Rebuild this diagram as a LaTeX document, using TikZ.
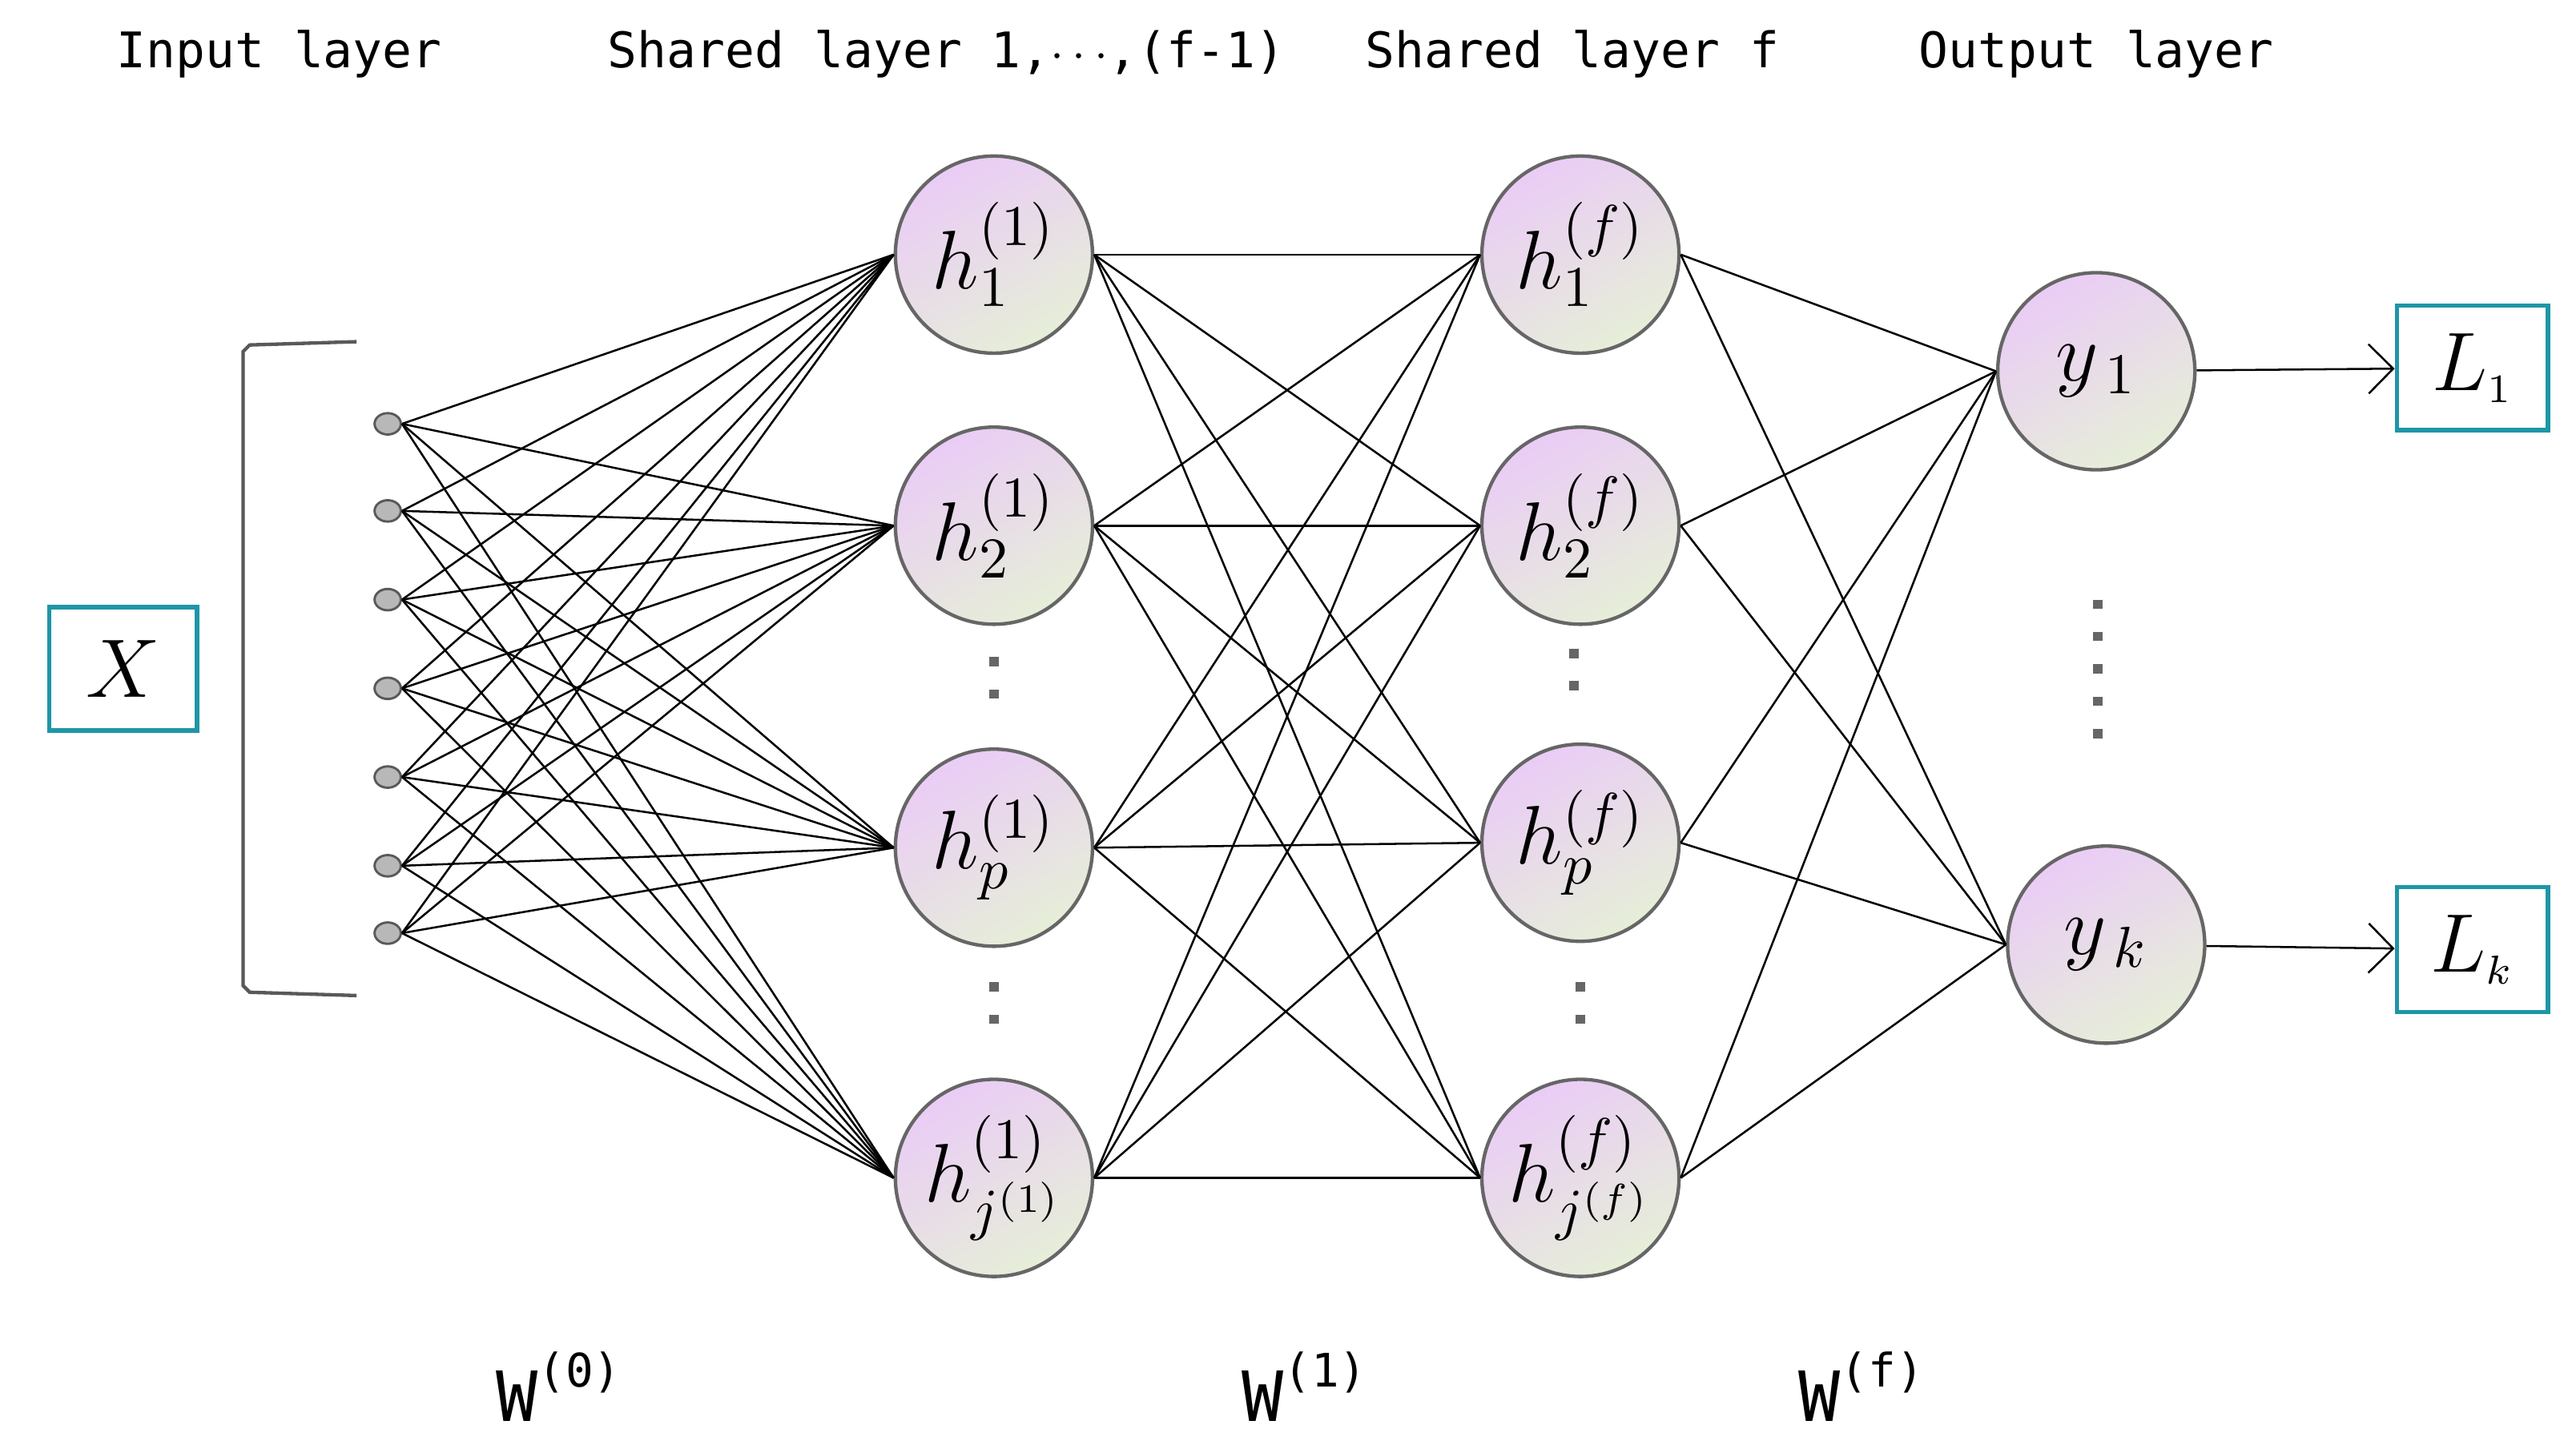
\documentclass[tikz,border=0pt]{standalone}
\usepackage{fontspec}
\newfontfamily\monofont{DejaVu Sans Mono}
\usetikzlibrary{positioning,arrows.meta}
\definecolor{teal}{HTML}{1E96A6}
\definecolor{pinky}{HTML}{EACCF6}
\definecolor{greeny}{HTML}{E6EED8}
\tikzset{
  neuron/.style={circle,draw=black!60,semithick,minimum size=1.2cm,inner sep=0pt,
    top color=pinky,bottom color=greeny,shading angle=30,font=\fontsize{14}{14}\selectfont},
  inp/.style={ellipse,draw=black!65,fill=black!28,minimum width=.16cm,minimum height=.13cm,inner sep=0pt},
  lossbox/.style={draw=teal,thick,minimum width=.92cm,minimum height=.76cm,font=\fontsize{15}{15}\selectfont},
  title/.style={font=\monofont\fontsize{8.5}{9}\selectfont},
  wlabel/.style={font=\monofont\fontsize{12}{12}\selectfont},
  vdots/.style={line width=1.6pt,black!60,dash pattern=on 1.6pt off 4pt},
  link/.style={black,line width=.35pt}
}
\usetikzlibrary{shapes.geometric}
\begin{document}
\begin{tikzpicture}
\useasboundingbox (0,0) rectangle (15.68,8.84);
% titles
\node[title] at (1.70,8.51) {Input layer};
\node[title] at (5.76,8.51) {Shared layer 1,$\cdots$,(f-1)};
\node[title] at (9.57,8.51) {Shared layer f};
\node[title] at (12.76,8.51) {Output layer};
% input
\node[lossbox,minimum width=.9cm,minimum height=.75cm] (X) at (.75,4.77) {$X$};
\draw[black!65,semithick] (2.17,6.76) -- (1.52,6.74) -- (1.48,6.7) -- (1.48,2.84) -- (1.52,2.80) -- (2.17,2.78);
\foreach \i/\y in {1/6.26,2/5.73,3/5.19,4/4.65,5/4.11,6/3.57,7/3.16}
  \node[inp] (x\i) at (2.36,\y) {};
% shared layer 1
\node[neuron] (a1) at (6.05,7.29) {$h_1^{(1)}$};
\node[neuron] (a2) at (6.05,5.64) {$h_2^{(1)}$};
\node[neuron] (a3) at (6.05,3.68) {$h_p^{(1)}$};
\node[neuron] (a4) at (6.05,1.67) {$h_{j^{(1)}}^{(1)}$};
% shared layer f
\node[neuron] (b1) at (9.62,7.29) {$h_1^{(f)}$};
\node[neuron] (b2) at (9.62,5.64) {$h_2^{(f)}$};
\node[neuron] (b3) at (9.62,3.71) {$h_p^{(f)}$};
\node[neuron] (b4) at (9.62,1.67) {$h_{j^{(f)}}^{(f)}$};
% output
\node[neuron] (y1) at (12.76,6.58) {$y_{\,1}$};
\node[neuron] (y2) at (12.82,3.09) {$y_{\,k}$};
\node[lossbox] (L1) at (15.05,6.60) {$L_{\scriptscriptstyle 1}$};
\node[lossbox] (L2) at (15.05,3.06) {$L_{\scriptscriptstyle k}$};
% dots
\draw[vdots] (6.05,4.84) -- (6.05,4.49);
\draw[vdots] (6.05,2.86) -- (6.05,2.49);
\draw[vdots] (9.58,4.89) -- (9.58,4.52);
\draw[vdots] (9.62,2.86) -- (9.62,2.49);
\draw[vdots] (12.77,5.19) -- (12.77,4.29);
% connections
\foreach \i in {1,...,7}
  \foreach \j in {1,...,4}
    \draw[link] (x\i.east) -- (a\j.west);
\foreach \i in {1,...,4}
  \foreach \j in {1,...,4}
    \draw[link] (a\i.east) -- (b\j.west);
\foreach \i in {1,...,4}
  \foreach \j in {1,2}
    \draw[link] (b\i.east) -- (y\j.west);
\draw[link,-{Straight Barb[length=1.5mm]}] (y1) -- (L1);
\draw[link,-{Straight Barb[length=1.5mm]}] (y2) -- (L2);
% weights
\node[wlabel] at (3.40,.40) {W\raisebox{.9ex}{\fontsize{8}{8}\selectfont(0)}};
\node[wlabel] at (7.94,.40) {W\raisebox{.9ex}{\fontsize{8}{8}\selectfont(1)}};
\node[wlabel] at (11.33,.40) {W\raisebox{.9ex}{\fontsize{8}{8}\selectfont(f)}};
\end{tikzpicture}
\end{document}
